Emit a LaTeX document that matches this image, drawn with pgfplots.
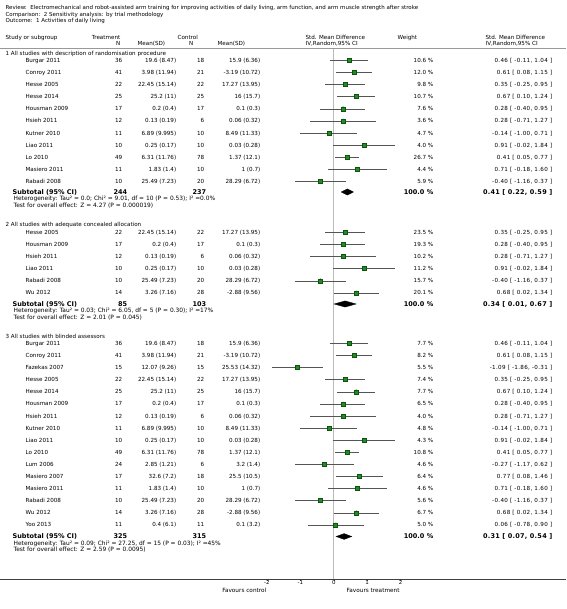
\documentclass[border=0pt]{standalone}
\usepackage{fontspec}
\setmainfont{DejaVu Sans}
\newfontfamily\cifont[LetterSpace=6]{DejaVu Sans}
\newfontfamily\cifontB[LetterSpace=4]{DejaVu Sans}
\usepackage{pgfplots}
\pgfplotsset{compat=1.18}
\usepackage{pgfplotstable}
\definecolor{sqfill}{HTML}{2A862A}
\definecolor{sqdraw}{HTML}{0A560A}
\definecolor{cigray}{HTML}{555555}
\definecolor{zerogray}{HTML}{BBBBBB}
\definecolor{sepgray}{HTML}{999999}

\pgfplotsset{
 discard if/.style 2 args={x filter/.append code={\edef\tempa{\thisrow{#1}}\edef\tempb{#2}\ifx\tempa\tempb\def\pgfmathresult{inf}\fi}},
 discard if not/.style 2 args={x filter/.append code={\edef\tempa{\thisrow{#1}}\edef\tempb{#2}\ifx\tempa\tempb\else\def\pgfmathresult{inf}\fi}},
 cibar/.style={only marks, mark=none, forget plot, error bars/.cd, x dir=both, x explicit, error mark=none, error bar style={cigray, line width=0.75pt}},
 sq/.style={scatter, only marks, mark=square*, discard if={ms}{0}, visualization depends on={\thisrow{ms} \as \pms}, scatter/@pre marker code/.append style={/tikz/mark size=\pms pt}, scatter/use mapped color={draw=sqdraw, fill=sqfill}, line width=0.6pt},
 tk/.style={only marks, mark=|, mark size=2.1pt, draw=cigray, mark options={line width=0.8pt}, discard if not={ms}{0}},
}

% y (pixel row, negative), SMD, CI low, CI high, marker half size (0 = tick)
\pgfplotstableread{
y smd lo hi ms
-60.5 0.46 -0.11 1.04 1.9
-72.6 0.61 0.08 1.15 2.0
-84.7 0.35 -0.25 0.95 1.8
-96.8 0.67 0.10 1.24 1.9
-108.9 0.28 -0.40 0.95 1.7
-121.0 0.28 -0.71 1.27 0
-133.1 -0.14 -1.00 0.71 0
-145.2 0.91 -0.02 1.84 0
-157.3 0.41 0.05 0.77 3.0
-169.4 0.71 -0.18 1.60 0
-181.5 -0.40 -1.16 0.37 1.6
}\secA
\pgfplotstableread{
y smd lo hi ms
-232.5 0.35 -0.25 0.95 2.3
-244.6 0.28 -0.40 0.95 2.2
-256.7 0.28 -0.71 1.27 1.5
-268.8 0.91 -0.02 1.84 1.6
-280.9 -0.40 -1.16 0.37 2.1
-293.0 0.68 0.02 1.34 2.2
}\secB
\pgfplotstableread{
y smd lo hi ms
-343.5 0.46 -0.11 1.04 1.9
-355.6 0.61 0.08 1.15 1.9
-367.7 -1.09 -1.86 -0.31 1.7
-379.8 0.35 -0.25 0.95 1.8
-391.9 0.67 0.10 1.24 1.9
-404.0 0.28 -0.40 0.95 1.7
-416.1 0.28 -0.71 1.27 0
-428.2 -0.14 -1.00 0.71 0
-440.3 0.91 -0.02 1.84 0
-452.4 0.41 0.05 0.77 1.9
-464.5 -0.27 -1.17 0.62 0
-476.6 0.77 0.08 1.46 1.8
-488.7 0.71 -0.18 1.60 0
-500.8 -0.40 -1.16 0.37 1.7
-512.9 0.68 0.02 1.34 1.8
-525.0 0.06 -0.78 0.90 1.5
}\secC

\tikzset{
 t/.style={font=\fontsize{5.6}{6}\selectfont, inner sep=0pt, yshift=-2.0pt},
 tt/.style={font=\fontsize{5.5}{6}\selectfont, inner sep=0pt, yshift=-2.0pt},
 tc/.style={font=\fontsize{5.6}{6}\cifont\selectfont, inner sep=0pt, yshift=-2.0pt},
 tb/.style={font=\fontsize{6.5}{7}\bfseries\selectfont, inner sep=0pt, yshift=-2.3pt},
 tbc/.style={font=\fontsize{6.5}{7}\cifontB\bfseries\selectfont, inner sep=0pt, yshift=-2.3pt},
 ts/.style={font=\fontsize{5.9}{6}\selectfont, inner sep=0pt, yshift=-2.0pt},
}
\newcommand\srow[8]{%
 \node[t,anchor=base west] at (25,#1) {#2};
 \node[t,anchor=base east] at (122,#1) {#3};
 \node[t,anchor=base east] at (176,#1) {#4};
 \node[t,anchor=base east] at (204,#1) {#5};
 \node[t,anchor=base east] at (260,#1) {#6};
 \node[t,anchor=base east] at (433,#1) {#7 \%};
 \node[tc,anchor=base east] at (552,#1) {#8};
}
\newcommand\subt[6]{%
 \node[tb,anchor=base west] at (12,#1) {Subtotal (95\% CI)};
 \node[tb,anchor=base east] at (127,#1) {#2};
 \node[tb,anchor=base east] at (206,#1) {#3};
 \node[tb,anchor=base east] at (433,#1) {100.0 \%};
 \node[tbc,anchor=base east] at (552,#1) {#4};
 \node[ts,anchor=base west] at (13,{#1+7}) {#5};
 \node[ts,anchor=base west] at (13,{#1+13.5}) {#6};
}

\begin{document}
\begin{tikzpicture}
\begin{scope}[x=1pt, y=-1pt, shift={(0pt,579pt)}]
\useasboundingbox (0,0) rectangle (566,609);
\end{scope}
\begin{axis}[
 at={(0pt,0pt)}, anchor=south west,
 scale only axis, width=566pt, height=579pt,
 xmin=-9.979, xmax=6.967, ymin=-579, ymax=0,
 axis x line*=bottom, axis y line=none,
 xtick={-2,-1,0,1,2}, xticklabels={-2,-1,0,1,2},
 tick align=outside, major tick length=2pt,
 x axis line style={black!75, line width=0.8pt},
 tick style={black!70, line width=0.5pt},
 xticklabel style={font=\fontsize{5.5}{5.5}\selectfont, inner sep=0.5pt, yshift=1pt},
 clip=false,
]
\addplot[zerogray, line width=0.6pt, forget plot] coordinates {(0,-49) (0,-579)};

\addplot[cibar] table[x=smd,y=y,x error plus expr=\thisrow{hi}-\thisrow{smd},x error minus expr=\thisrow{smd}-\thisrow{lo}]{\secA};
\addplot[cibar] table[x=smd,y=y,x error plus expr=\thisrow{hi}-\thisrow{smd},x error minus expr=\thisrow{smd}-\thisrow{lo}]{\secB};
\addplot[cibar] table[x=smd,y=y,x error plus expr=\thisrow{hi}-\thisrow{smd},x error minus expr=\thisrow{smd}-\thisrow{lo}]{\secC};

\addplot[sq] table[x=smd,y=y]{\secA};
\addplot[sq] table[x=smd,y=y]{\secB};
\addplot[sq] table[x=smd,y=y]{\secC};
\addplot[tk] table[x=smd,y=y]{\secA};
\addplot[tk] table[x=smd,y=y]{\secC};

% pooled estimates (diamonds)
\addplot[fill=black, draw=black, line width=0.3pt] coordinates {(0.22,-192) (0.41,-188.9) (0.59,-192) (0.41,-195.1)} -- cycle;
\addplot[fill=black, draw=black, line width=0.3pt] coordinates {(0.01,-304) (0.34,-300.9) (0.67,-304) (0.34,-307.1)} -- cycle;
\addplot[fill=black, draw=black, line width=0.3pt] coordinates {(0.07,-536.5) (0.31,-533.6) (0.54,-536.5) (0.31,-539.4)} -- cycle;
\end{axis}

\begin{scope}[x=1pt, y=-1pt, shift={(0pt,579pt)}]
\node[tt,anchor=base west] at (5,8) {Review:\ \ Electromechanical and robot-assisted arm training for improving activities of daily living, arm function, and arm muscle strength after stroke};
\node[tt,anchor=base west] at (5,14.5) {Comparison:\ \ 2 Sensitivity analysis: by trial methodology};
\node[tt,anchor=base west] at (5,21) {Outcome:\ \ 1 Activities of daily living};

\node[t,anchor=base west] at (5,37.5) {Study or subgroup};
\node[t,anchor=base east] at (120,37.5) {Treatment};
\node[t,anchor=base east] at (120,43.5) {N};
\node[t,anchor=base west] at (137,43.5) {Mean(SD)};
\node[t,anchor=base west] at (177,37.5) {Control};
\node[t,anchor=base east] at (193,43.5) {N};
\node[t,anchor=base west] at (217,43.5) {Mean(SD)};
\node[t,anchor=base west] at (305,37.5) {Std. Mean Difference};
\node[t,anchor=base west] at (305,43.5) {IV,Random,95\% CI};
\node[t,anchor=base west] at (397,37.5) {Weight};
\node[t,anchor=base west] at (485,37.5) {Std. Mean Difference};
\node[t,anchor=base west] at (485,43.5) {IV,Random,95\% CI};
\draw[sepgray, line width=0.9pt] (0,48.5) -- (566,48.5);

\node[t,anchor=base west] at (5,54) {1 All studies with description of randomisation procedure};
\srow{60.5}{Burgar 2011}{36}{19.6 (8.47)}{18}{15.9 (6.36)}{10.6}{0.46 [ -0.11, 1.04 ]}
\srow{72.6}{Conroy 2011}{41}{3.98 (11.94)}{21}{-3.19 (10.72)}{12.0}{0.61 [ 0.08, 1.15 ]}
\srow{84.7}{Hesse 2005}{22}{22.45 (15.14)}{22}{17.27 (13.95)}{9.8}{0.35 [ -0.25, 0.95 ]}
\srow{96.8}{Hesse 2014}{25}{25.2 (11)}{25}{16 (15.7)}{10.7}{0.67 [ 0.10, 1.24 ]}
\srow{108.9}{Housman 2009}{17}{0.2 (0.4)}{17}{0.1 (0.3)}{7.6}{0.28 [ -0.40, 0.95 ]}
\srow{121.0}{Hsieh 2011}{12}{0.13 (0.19)}{6}{0.06 (0.32)}{3.6}{0.28 [ -0.71, 1.27 ]}
\srow{133.1}{Kutner 2010}{11}{6.89 (9.995)}{10}{8.49 (11.33)}{4.7}{-0.14 [ -1.00, 0.71 ]}
\srow{145.2}{Liao 2011}{10}{0.25 (0.17)}{10}{0.03 (0.28)}{4.0}{0.91 [ -0.02, 1.84 ]}
\srow{157.3}{Lo 2010}{49}{6.31 (11.76)}{78}{1.37 (12.1)}{26.7}{0.41 [ 0.05, 0.77 ]}
\srow{169.4}{Masiero 2011}{11}{1.83 (1.4)}{10}{1 (0.7)}{4.4}{0.71 [ -0.18, 1.60 ]}
\srow{181.5}{Rabadi 2008}{10}{25.49 (7.23)}{20}{28.29 (6.72)}{5.9}{-0.40 [ -1.16, 0.37 ]}
\subt{192}{244}{237}{0.41 [ 0.22, 0.59 ]}{Heterogeneity: Tau² = 0.0; Chi² = 9.01, df = 10 (P = 0.53); I² =0.0\%}{Test for overall effect: Z = 4.27 (P = 0.000019)}

\node[t,anchor=base west] at (5,225) {2 All studies with adequate concealed allocation};
\srow{232.5}{Hesse 2005}{22}{22.45 (15.14)}{22}{17.27 (13.95)}{23.5}{0.35 [ -0.25, 0.95 ]}
\srow{244.6}{Housman 2009}{17}{0.2 (0.4)}{17}{0.1 (0.3)}{19.3}{0.28 [ -0.40, 0.95 ]}
\srow{256.7}{Hsieh 2011}{12}{0.13 (0.19)}{6}{0.06 (0.32)}{10.2}{0.28 [ -0.71, 1.27 ]}
\srow{268.8}{Liao 2011}{10}{0.25 (0.17)}{10}{0.03 (0.28)}{11.2}{0.91 [ -0.02, 1.84 ]}
\srow{280.9}{Rabadi 2008}{10}{25.49 (7.23)}{20}{28.29 (6.72)}{15.7}{-0.40 [ -1.16, 0.37 ]}
\srow{293.0}{Wu 2012}{14}{3.26 (7.16)}{28}{-2.88 (9.56)}{20.1}{0.68 [ 0.02, 1.34 ]}
\subt{304}{85}{103}{0.34 [ 0.01, 0.67 ]}{Heterogeneity: Tau² = 0.03; Chi² = 6.05, df = 5 (P = 0.30); I² =17\%}{Test for overall effect: Z = 2.01 (P = 0.045)}

\node[t,anchor=base west] at (5,337) {3 All studies with blinded assessors};
\srow{343.5}{Burgar 2011}{36}{19.6 (8.47)}{18}{15.9 (6.36)}{7.7}{0.46 [ -0.11, 1.04 ]}
\srow{355.6}{Conroy 2011}{41}{3.98 (11.94)}{21}{-3.19 (10.72)}{8.2}{0.61 [ 0.08, 1.15 ]}
\srow{367.7}{Fazekas 2007}{15}{12.07 (9.26)}{15}{25.53 (14.32)}{5.5}{-1.09 [ -1.86, -0.31 ]}
\srow{379.8}{Hesse 2005}{22}{22.45 (15.14)}{22}{17.27 (13.95)}{7.4}{0.35 [ -0.25, 0.95 ]}
\srow{391.9}{Hesse 2014}{25}{25.2 (11)}{25}{16 (15.7)}{7.7}{0.67 [ 0.10, 1.24 ]}
\srow{404.0}{Housman 2009}{17}{0.2 (0.4)}{17}{0.1 (0.3)}{6.5}{0.28 [ -0.40, 0.95 ]}
\srow{416.1}{Hsieh 2011}{12}{0.13 (0.19)}{6}{0.06 (0.32)}{4.0}{0.28 [ -0.71, 1.27 ]}
\srow{428.2}{Kutner 2010}{11}{6.89 (9.995)}{10}{8.49 (11.33)}{4.8}{-0.14 [ -1.00, 0.71 ]}
\srow{440.3}{Liao 2011}{10}{0.25 (0.17)}{10}{0.03 (0.28)}{4.3}{0.91 [ -0.02, 1.84 ]}
\srow{452.4}{Lo 2010}{49}{6.31 (11.76)}{78}{1.37 (12.1)}{10.8}{0.41 [ 0.05, 0.77 ]}
\srow{464.5}{Lum 2006}{24}{2.85 (1.21)}{6}{3.2 (1.4)}{4.6}{-0.27 [ -1.17, 0.62 ]}
\srow{476.6}{Masiero 2007}{17}{32.6 (7.2)}{18}{25.5 (10.5)}{6.4}{0.77 [ 0.08, 1.46 ]}
\srow{488.7}{Masiero 2011}{11}{1.83 (1.4)}{10}{1 (0.7)}{4.6}{0.71 [ -0.18, 1.60 ]}
\srow{500.8}{Rabadi 2008}{10}{25.49 (7.23)}{20}{28.29 (6.72)}{5.6}{-0.40 [ -1.16, 0.37 ]}
\srow{512.9}{Wu 2012}{14}{3.26 (7.16)}{28}{-2.88 (9.56)}{6.7}{0.68 [ 0.02, 1.34 ]}
\srow{525.0}{Yoo 2013}{11}{0.4 (6.1)}{11}{0.1 (3.2)}{5.0}{0.06 [ -0.78, 0.90 ]}
\subt{536.5}{325}{315}{0.31 [ 0.07, 0.54 ]}{Heterogeneity: Tau² = 0.09; Chi² = 27.25, df = 15 (P = 0.03); I² =45\%}{Test for overall effect: Z = 2.59 (P = 0.0095)}

\node[t,font=\fontsize{5.75}{6}\selectfont,anchor=base east] at (266,590.3) {Favours control};
\node[t,font=\fontsize{5.75}{6}\selectfont,anchor=base west] at (346,590.3) {Favours treatment};
\end{scope}
\end{tikzpicture}
\end{document}
